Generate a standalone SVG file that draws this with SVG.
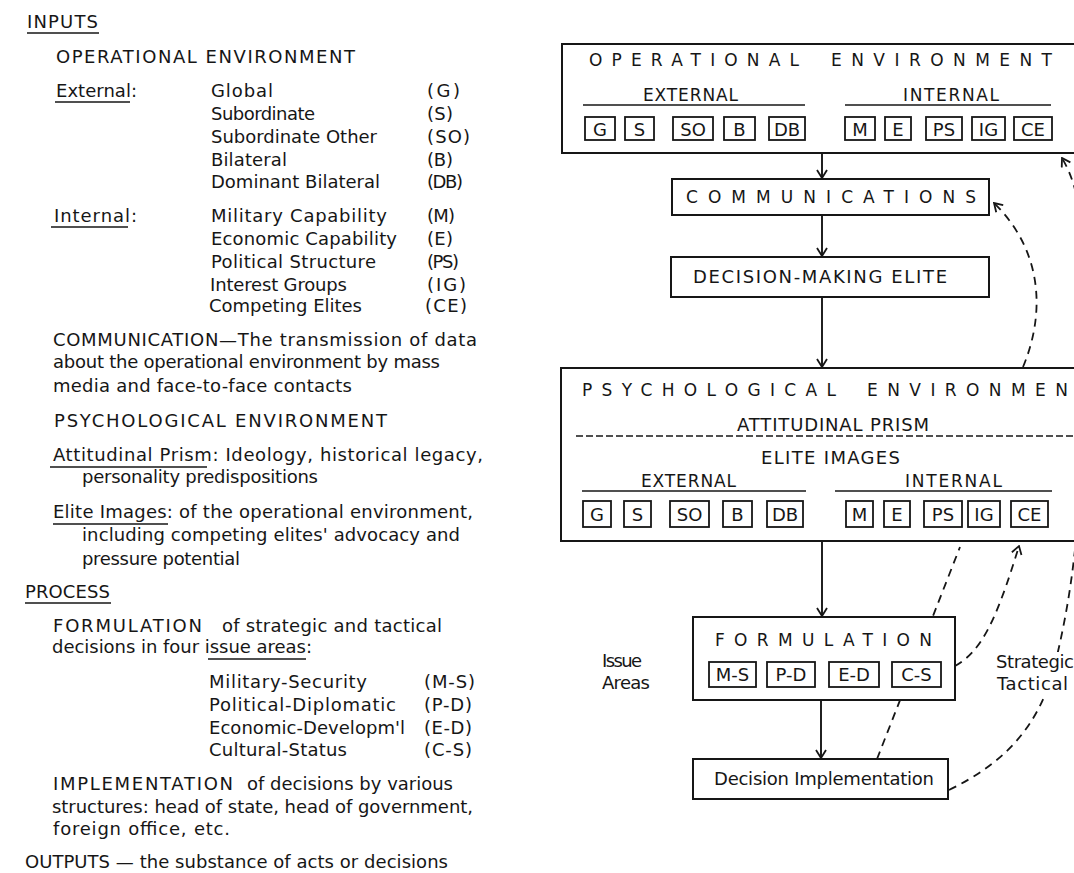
<svg xmlns="http://www.w3.org/2000/svg" width="1074" height="873" viewBox="0 0 1074 873">
<style>
.t{font-family:"DejaVu Sans","Liberation Sans",sans-serif;font-size:18px;fill:#161616}
.h{font-size:17px}
.m{text-anchor:middle}
.box{fill:#fff;stroke:#161616;stroke-width:2}
.sb{fill:#fff;stroke:#161616;stroke-width:1.8}
.ul{stroke:#161616;stroke-width:1.6}
.c{fill:none;stroke:#161616;stroke-width:1.9}
.d{fill:none;stroke:#161616;stroke-width:1.8;stroke-dasharray:8 6}
</style>
<defs>
<marker id="ah" viewBox="0 0 10 12" refX="9" refY="6" markerWidth="10" markerHeight="12" markerUnits="userSpaceOnUse" orient="auto">
<path d="M1,1 L9,6 L1,11" fill="none" stroke="#161616" stroke-width="1.8"/>
</marker>
</defs>
<rect width="1074" height="873" fill="#fff"/>

<g id="legend">
<text class="t" x="27" y="28" textLength="71">INPUTS</text>
<line class="ul" x1="27" y1="33" x2="99" y2="33"/>
<text class="t" x="56" y="63" textLength="299">OPERATIONAL ENVIRONMENT</text>
<text class="t" x="56" y="97" textLength="81">External:</text>
<line class="ul" x1="55" y1="102" x2="130" y2="102"/>
<text class="t" x="211" y="97" textLength="62">Global</text><text class="t" x="427" y="97" textLength="33">(G)</text>
<text class="t" x="211" y="120" textLength="104">Subordinate</text><text class="t" x="427" y="120" textLength="26">(S)</text>
<text class="t" x="211" y="143" textLength="166">Subordinate Other</text><text class="t" x="427" y="143" textLength="43">(SO)</text>
<text class="t" x="211" y="166" textLength="76">Bilateral</text><text class="t" x="427" y="166" textLength="26">(B)</text>
<text class="t" x="211" y="188" textLength="169">Dominant Bilateral</text><text class="t" x="427" y="188" textLength="36">(DB)</text>
<text class="t" x="54" y="222" textLength="83">Internal:</text>
<line class="ul" x1="51" y1="227" x2="128" y2="227"/>
<text class="t" x="211" y="222" textLength="176">Military Capability</text><text class="t" x="427" y="222" textLength="28">(M)</text>
<text class="t" x="211" y="245" textLength="186">Economic Capability</text><text class="t" x="427" y="245" textLength="26">(E)</text>
<text class="t" x="211" y="268" textLength="165">Political Structure</text><text class="t" x="427" y="268" textLength="32">(PS)</text>
<text class="t" x="210" y="291" textLength="137">Interest Groups</text><text class="t" x="427" y="291" textLength="39">(IG)</text>
<text class="t" x="209" y="312" textLength="153">Competing Elites</text><text class="t" x="425" y="312" textLength="42">(CE)</text>
<text class="t" x="53" y="346" textLength="424">COMMUNICATION—The transmission of data</text>
<text class="t" x="53" y="368" textLength="387">about the operational environment by mass</text>
<text class="t" x="53" y="392" textLength="299">media and face-to-face contacts</text>
<text class="t" x="54" y="427" textLength="333">PSYCHOLOGICAL ENVIRONMENT</text>
<text class="t" x="53" y="461" textLength="430">Attitudinal Prism: Ideology, historical legacy,</text>
<line class="ul" x1="50" y1="467" x2="207" y2="467"/>
<text class="t" x="82" y="483" textLength="236">personality predispositions</text>
<text class="t" x="53" y="518" textLength="420">Elite Images: of the operational environment,</text>
<line class="ul" x1="53" y1="524" x2="168" y2="524"/>
<text class="t" x="82" y="541" textLength="378">including competing elites' advocacy and</text>
<text class="t" x="82" y="565" textLength="158">pressure potential</text>
<text class="t" x="25" y="598" textLength="85">PROCESS</text>
<line class="ul" x1="25" y1="603" x2="111" y2="603"/>
<text class="t" x="53" y="632" textLength="149">FORMULATION</text>
<text class="t" x="222" y="632" textLength="220">of strategic and tactical</text>
<text class="t" x="52" y="653" textLength="260">decisions in four issue areas:</text>
<line class="ul" x1="208" y1="659" x2="306" y2="659"/>
<text class="t" x="209" y="688" textLength="158">Military-Security</text><text class="t" x="424" y="688" textLength="51">(M-S)</text>
<text class="t" x="209" y="711" textLength="187">Political-Diplomatic</text><text class="t" x="424" y="711" textLength="48">(P-D)</text>
<text class="t" x="209" y="734" textLength="196">Economic-Developm'l</text><text class="t" x="424" y="734" textLength="48">(E-D)</text>
<text class="t" x="209" y="756" textLength="138">Cultural-Status</text><text class="t" x="424" y="756" textLength="48">(C-S)</text>
<text class="t" x="53" y="790" textLength="180">IMPLEMENTATION</text>
<text class="t" x="247" y="790" textLength="206">of decisions by various</text>
<text class="t" x="52" y="813" textLength="421">structures: head of state, head of government,</text>
<text class="t" x="53" y="835" textLength="177">foreign office, etc.</text>
<text class="t" x="25" y="868" textLength="423">OUTPUTS — the substance of acts or decisions</text>
</g>

<g id="connectors">
<line class="c" x1="822" y1="153" x2="822" y2="178" marker-end="url(#ah)"/>
<line class="c" x1="822" y1="215" x2="822" y2="256" marker-end="url(#ah)"/>
<line class="c" x1="822" y1="297" x2="822" y2="367" marker-end="url(#ah)"/>
<line class="c" x1="822" y1="541" x2="822" y2="616" marker-end="url(#ah)"/>
<line class="c" x1="821" y1="700" x2="821" y2="758" marker-end="url(#ah)"/>
<path class="d" d="M1023,367 C1046,312 1042,250 994,203" marker-end="url(#ah)"/>
<path class="d" d="M949,790 C1000,765 1040,730 1056,660 C1068,610 1073,570 1076,540 L1082,300 L1080,220 C1078,195 1072,175 1062,158" marker-end="url(#ah)"/>
<path class="d" d="M955,666 C980,652 995,625 1019,546" marker-end="url(#ah)"/>
<path class="d" d="M877,759 L960,547"/>
</g>

<g id="op-env">
<rect class="box" x="562" y="44" width="520" height="109"/>
<text class="t h" x="589" y="66" textLength="210">OPERATIONAL</text>
<text class="t h" x="831" y="66" textLength="221">ENVIRONMENT</text>
<text class="t h" x="643" y="101" textLength="95">EXTERNAL</text>
<text class="t h" x="903" y="101" textLength="96">INTERNAL</text>
<line class="ul" x1="583" y1="105" x2="805" y2="105"/>
<line class="ul" x1="845" y1="105" x2="1051" y2="105"/>
<rect class="sb" x="585" y="117" width="30" height="23"/><text class="t m" x="600" y="136">G</text>
<rect class="sb" x="625" y="117" width="29" height="23"/><text class="t m" x="639.5" y="136">S</text>
<rect class="sb" x="673" y="117" width="40" height="23"/><text class="t m" x="693" y="136">SO</text>
<rect class="sb" x="724" y="117" width="31" height="23"/><text class="t m" x="739.5" y="136">B</text>
<rect class="sb" x="769" y="117" width="36" height="23"/><text class="t m" x="787" y="136">DB</text>
<rect class="sb" x="845" y="117" width="30" height="23"/><text class="t m" x="860" y="136">M</text>
<rect class="sb" x="885" y="117" width="26" height="23"/><text class="t m" x="898" y="136">E</text>
<rect class="sb" x="926" y="117" width="36" height="23"/><text class="t m" x="944" y="136">PS</text>
<rect class="sb" x="972" y="117" width="33" height="23"/><text class="t m" x="988.5" y="136">IG</text>
<rect class="sb" x="1014" y="117" width="38" height="23"/><text class="t m" x="1033" y="136">CE</text>
</g>

<g id="communications">
<rect class="box" x="672" y="179" width="317" height="36"/>
<text class="t h" x="686" y="203" textLength="290">COMMUNICATIONS</text>
</g>

<g id="decision-elite">
<rect class="box" x="671" y="257" width="318" height="40"/>
<text class="t" x="693" y="283" textLength="254">DECISION-MAKING ELITE</text>
</g>

<g id="psych-env">
<rect class="box" x="561" y="368" width="521" height="173"/>
<text class="t h" x="582" y="396" textLength="254">PSYCHOLOGICAL</text>
<text class="t h" x="867" y="396" textLength="201">ENVIRONMEN</text>
<text class="t" x="737" y="431" textLength="192">ATTITUDINAL PRISM</text>
<line class="ul" x1="576" y1="436" x2="1082" y2="436" stroke-dasharray="7 3"/>
<text class="t" x="761" y="464" textLength="139">ELITE IMAGES</text>
<text class="t h" x="641" y="487" textLength="95">EXTERNAL</text>
<text class="t h" x="905" y="487" textLength="97">INTERNAL</text>
<line class="ul" x1="582" y1="491" x2="806" y2="491"/>
<line class="ul" x1="835" y1="491" x2="1052" y2="491"/>
<rect class="sb" x="583" y="501" width="28" height="26"/><text class="t m" x="597" y="521">G</text>
<rect class="sb" x="624" y="501" width="27" height="26"/><text class="t m" x="637.5" y="521">S</text>
<rect class="sb" x="670" y="501" width="39" height="26"/><text class="t m" x="689.5" y="521">SO</text>
<rect class="sb" x="723" y="501" width="29" height="26"/><text class="t m" x="737.5" y="521">B</text>
<rect class="sb" x="767" y="501" width="36" height="26"/><text class="t m" x="785" y="521">DB</text>
<rect class="sb" x="846" y="501" width="27" height="26"/><text class="t m" x="859.5" y="521">M</text>
<rect class="sb" x="884" y="501" width="26" height="26"/><text class="t m" x="897" y="521">E</text>
<rect class="sb" x="924" y="501" width="38" height="26"/><text class="t m" x="943" y="521">PS</text>
<rect class="sb" x="968" y="501" width="32" height="26"/><text class="t m" x="984" y="521">IG</text>
<rect class="sb" x="1011" y="501" width="37" height="26"/><text class="t m" x="1029.5" y="521">CE</text>
</g>

<g id="formulation">
<rect class="box" x="693" y="617" width="262" height="83"/>
<text class="t h" x="715" y="646" textLength="217">FORMULATION</text>
<rect class="sb" x="709" y="662" width="47" height="25"/><text class="t m" x="732.5" y="681">M-S</text>
<rect class="sb" x="767" y="662" width="48" height="25"/><text class="t m" x="791" y="681">P-D</text>
<rect class="sb" x="829" y="662" width="50" height="25"/><text class="t m" x="854" y="681">E-D</text>
<rect class="sb" x="892" y="662" width="49" height="25"/><text class="t m" x="916.5" y="681">C-S</text>
</g>

<g id="implementation">
<rect class="box" x="693" y="759" width="255" height="40"/>
<text class="t" x="714" y="785" textLength="220">Decision Implementation</text>
</g>

<g id="issue-areas">
<text class="t" x="602" y="667" textLength="40">Issue</text>
<text class="t" x="602" y="689" textLength="48">Areas</text>
</g>

<g id="strategic-tactical">
<rect x="993" y="652" width="85" height="43" fill="#fff"/>
<text class="t" x="996" y="668" textLength="78">Strategic</text>
<text class="t" x="997" y="690" textLength="71">Tactical</text>
</g>
</svg>
